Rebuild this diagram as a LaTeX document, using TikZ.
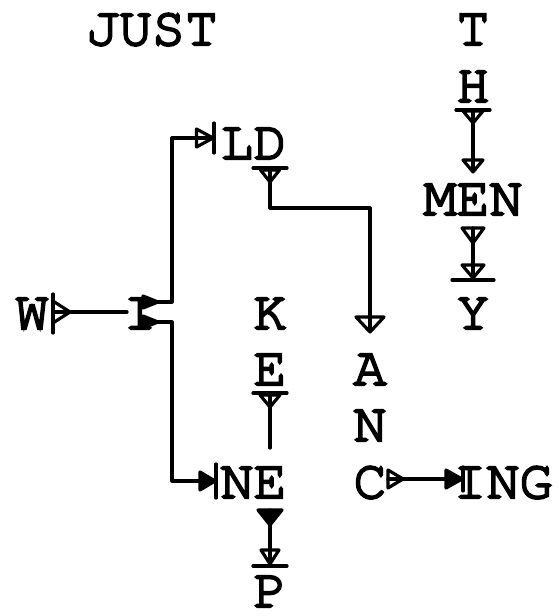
\documentclass[tikz,border=0pt]{standalone}
\usepackage{fontspec}
\newfontfamily\tw[Extension=.otf,RawFeature={embolden=4}]{texgyrecursor-regular}
\usetikzlibrary{calc}
\begin{document}
\begin{tikzpicture}[x=1pt,y=-1pt,
  ch/.style={font=\tw\fontsize{55}{55}\selectfont, inner sep=0pt, anchor=base},
  ln/.style={line width=3.2pt, line cap=round, line join=round},
  tri/.style={ln},
  ftri/.style={ln, fill=black}]
\useasboundingbox (0,0) rectangle (559,616);
\fill[white] (0,0) rectangle (559,616);
% words
\node[ch] (JUST) at (152,45) {JUST};
\node[ch] (T) at (473,45) {T};
\node[ch] (H) at (473,102) {H};
\node[ch] (LD) at (253.5,159) {LD};
\node[ch] (MEN) at (473,215) {MEN};
\node[ch] (W) at (32,329) {W};
\node[ch] (I) at (140,329) {I};
\node[ch] (K) at (270,329) {K};
\node[ch] (Y) at (473,329) {Y};
\node[ch] (E) at (270,385) {E};
\node[ch] (A) at (370,385) {A};
\node[ch] (N) at (370,441) {N};
\node[ch] (NE) at (253.5,498) {NE};
\node[ch] (C) at (370,498) {C};
\node[ch] (ING) at (503,498) {ING};
\node[ch] (P) at (270,607) {P};
% W -> I
\draw[ln] ($(W.base)+(21,-35)$) -- ($(W.base)+(21,4)$);
\draw[tri] ($(W.base)+(21,-28)$) -- ($(W.base)+(38,-17)$) -- ($(W.base)+(21,-6)$) -- cycle;
\draw[ln] ($(W.base)+(21,-17)$) -- ($(I.base)+(-13,-17)$);
% I -> LD
\draw[ftri] ($(I.base)+(3,-33)$) -- ($(I.base)+(3,-21)$) -- ($(I.base)+(18,-27)$) -- cycle;
\draw[ln] ($(I.base)+(18,-27)$) -- ($(I.base)+(32,-27)$) |- ($(LD.base)+(-42,-21)$);
\draw[tri] ($(LD.base)+(-57,-30)$) -- ($(LD.base)+(-57,-12)$) -- ($(LD.base)+(-40.5,-21)$) -- cycle;
\draw[ln] ($(LD.base)+(-39.5,-36)$) -- ($(LD.base)+(-39.5,-6)$);
% I -> NE
\draw[ftri] ($(I.base)+(3,-13)$) -- ($(I.base)+(3,-1)$) -- ($(I.base)+(18,-7)$) -- cycle;
\draw[ln] ($(I.base)+(18,-7)$) -- ($(I.base)+(32,-7)$) |- ($(NE.base)+(-53.5,-17)$);
\draw[ftri] ($(NE.base)+(-53.5,-26)$) -- ($(NE.base)+(-53.5,-8)$) -- ($(NE.base)+(-38.5,-17)$) -- cycle;
\draw[ln] ($(NE.base)+(-37.5,-34)$) -- ($(NE.base)+(-37.5,0)$);
% D -> A
\draw[ln] ($(LD.base)+(-0.5,9)$) -- ($(LD.base)+(33.5,9)$);
\draw[tri] ($(LD.base)+(7,11)$) -- ($(LD.base)+(26,11)$) -- ($(LD.base)+(16.5,23)$) -- cycle;
\draw[ln] ($(LD.base)+(16.5,10)$) -- ($(LD.base)+(16.5,49)$) -| ($(A.base)+(0,-55)$);
\draw[tri] ($(A.base)+(-14,-68)$) -- ($(A.base)+(14,-68)$) -- ($(A.base)+(0,-53)$) -- cycle;
% H -> MEN
\draw[ln] ($(H.base)+(-17,8)$) -- ($(H.base)+(17,8)$);
\draw[tri] ($(H.base)+(-10,9)$) -- ($(H.base)+(10,9)$) -- ($(H.base)+(0,21)$) -- cycle;
\draw[ln] ($(H.base)+(0,9)$) -- ($(MEN.base)+(0,-45)$);
\draw[tri] ($(MEN.base)+(-10,-55)$) -- ($(MEN.base)+(10,-55)$) -- ($(MEN.base)+(0,-43)$) -- cycle;
% MEN -> Y
\draw[tri] ($(MEN.base)+(-11,13)$) -- ($(MEN.base)+(11,13)$) -- ($(MEN.base)+(0,28)$) -- cycle;
\draw[ln] ($(MEN.base)+(0,13)$) -- ($(Y.base)+(0,-51)$);
\draw[tri] ($(Y.base)+(-11,-64)$) -- ($(Y.base)+(11,-64)$) -- ($(Y.base)+(0,-51)$) -- cycle;
\draw[ln] ($(Y.base)+(-21,-49)$) -- ($(Y.base)+(21,-49)$);
% E -> NE
\draw[ln] ($(E.base)+(-17,8)$) -- ($(E.base)+(17,8)$);
\draw[tri] ($(E.base)+(-10,10)$) -- ($(E.base)+(10,10)$) -- ($(E.base)+(0,22)$) -- cycle;
\draw[ln] ($(E.base)+(0,10)$) -- ($(NE.base)+(16.5,-50)$);
% NE -> P
\draw[ftri] ($(NE.base)+(4.5,12)$) -- ($(NE.base)+(28.5,12)$) -- ($(NE.base)+(16.5,27)$) -- cycle;
\draw[ln] ($(NE.base)+(16.5,12)$) -- ($(P.base)+(0,-43)$);
\draw[tri] ($(P.base)+(-9,-57)$) -- ($(P.base)+(9,-57)$) -- ($(P.base)+(0,-43)$) -- cycle;
\draw[ln] ($(P.base)+(-17,-41)$) -- ($(P.base)+(17,-41)$);
% C -> ING
\draw[tri] ($(C.base)+(18,-28)$) -- ($(C.base)+(18,-10)$) -- ($(C.base)+(33,-19)$) -- cycle;
\draw[ln] ($(C.base)+(18,-19)$) -- ($(ING.base)+(-57,-19)$);
\draw[ftri] ($(ING.base)+(-57,-28)$) -- ($(ING.base)+(-57,-10)$) -- ($(ING.base)+(-41,-19)$) -- cycle;
\draw[ln] ($(ING.base)+(-40,-31)$) -- ($(ING.base)+(-40,-7)$);
\end{tikzpicture}
\end{document}
